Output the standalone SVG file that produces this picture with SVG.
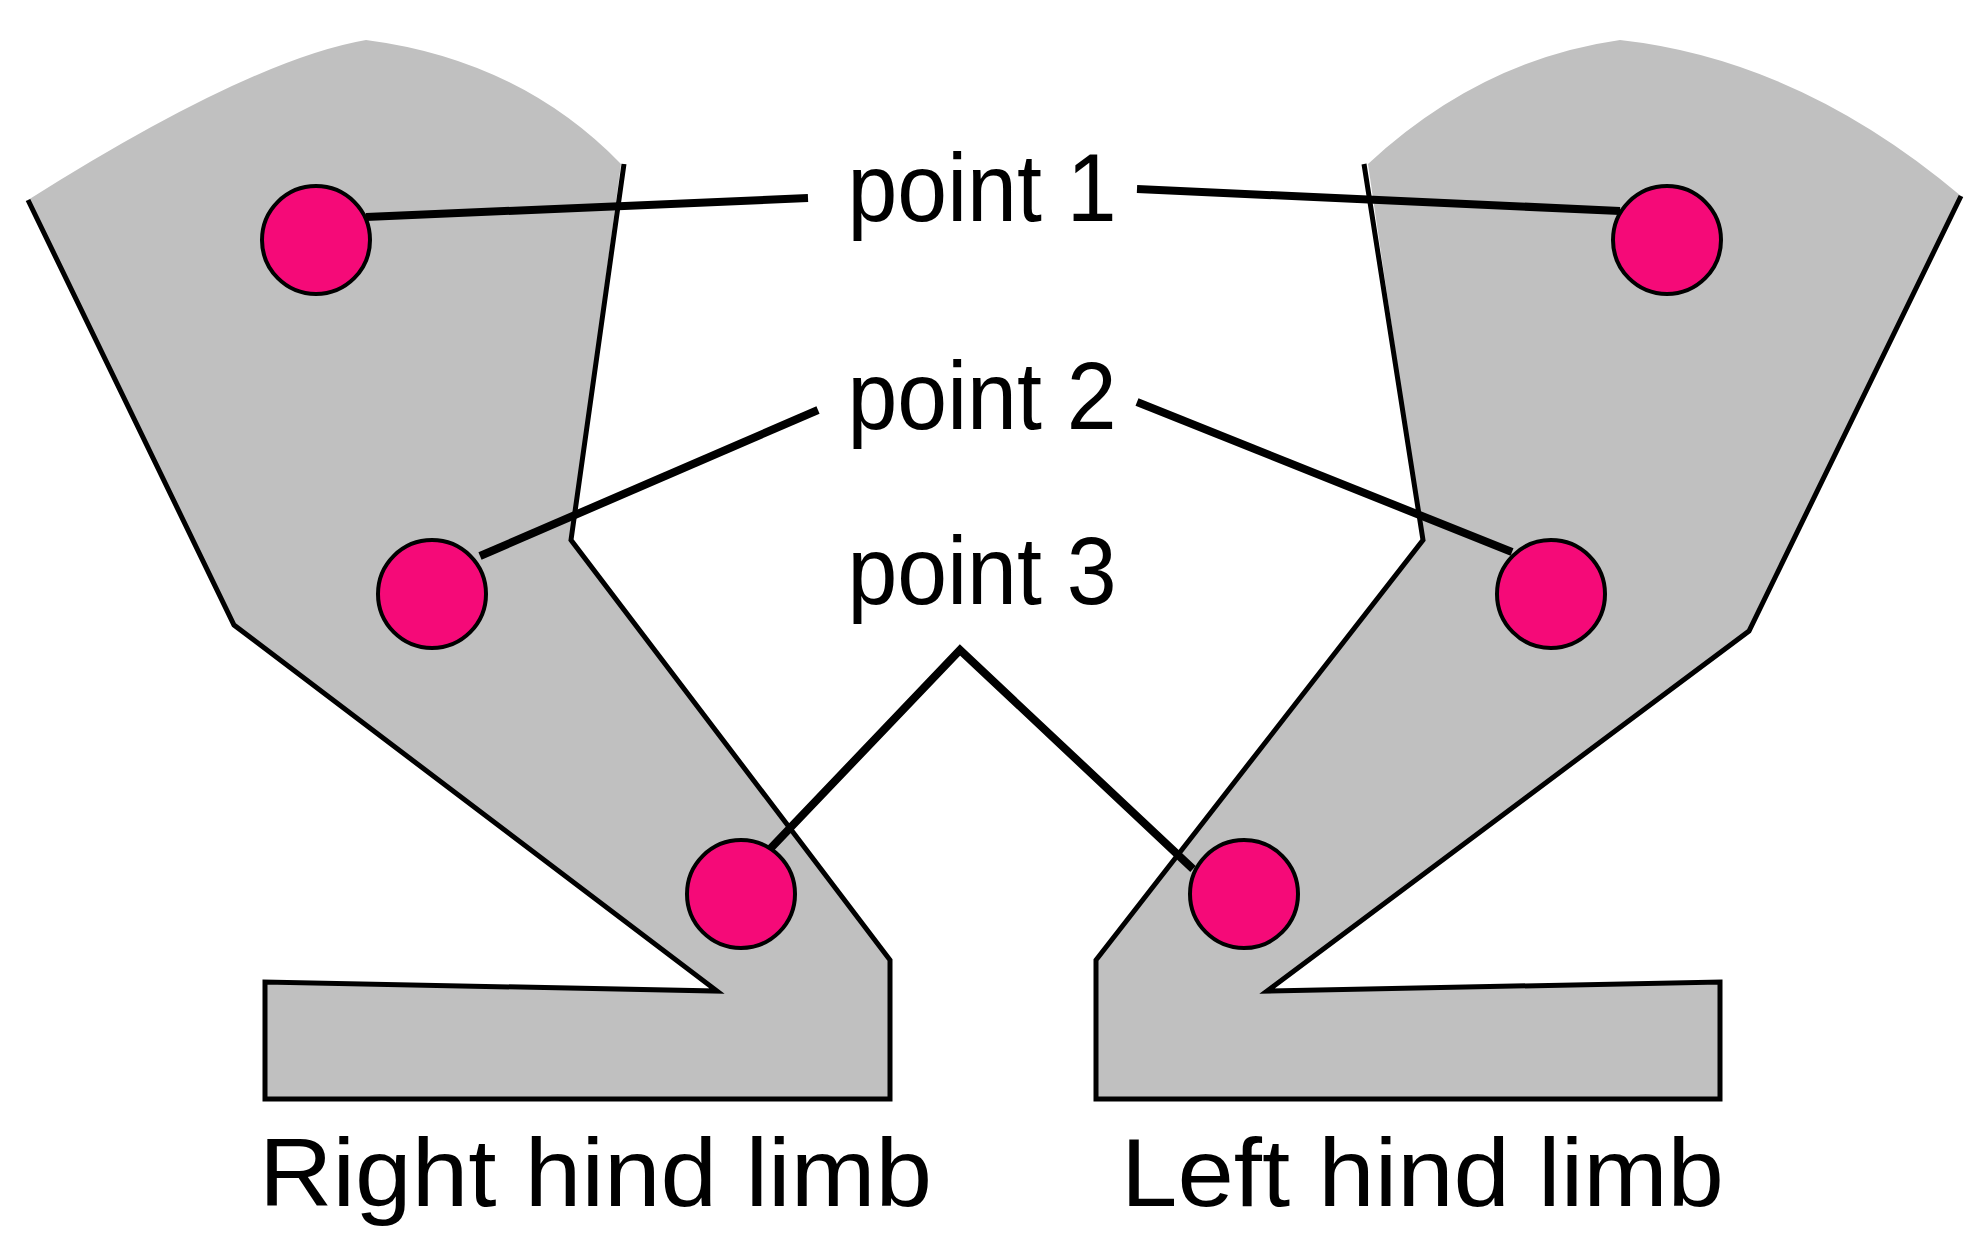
<svg xmlns="http://www.w3.org/2000/svg" width="1980" height="1260" viewBox="0 0 1980 1260">
<style>
.limb{fill:#c0c0c0;stroke:none}
.edge{fill:none;stroke:#000;stroke-width:5;stroke-linejoin:miter}
.pt{fill:#f50a78;stroke:#000;stroke-width:4}
.conn{fill:none;stroke:#000;stroke-width:8}
.lbl{font-family:"Liberation Sans",Arial,sans-serif;font-size:96px;fill:#000}
</style>
<rect width="1980" height="1260" fill="#fff"/>
<g id="right-limb">
<path class="limb" d="M28,200 Q250,60 366,40 Q520,60 621,164 L571,540 L890,960 L890,1099 L265,1099 L265,982 L717,991 L234,625 Z"/>
<path class="edge" d="M624,164 L571,540 L890,960 L890,1099 L265,1099 L265,982 L717,991 L234,625 L28,200"/>
<circle class="pt" cx="316" cy="240" r="54"/>
<circle class="pt" cx="432" cy="594" r="54"/>
<circle class="pt" cx="741" cy="894" r="54"/>
<text class="lbl" x="259" y="1206" textLength="673" lengthAdjust="spacingAndGlyphs">Right hind limb</text>
</g>
<g id="left-limb">
<path class="limb" d="M1368,164 Q1480,60 1620,40 Q1800,60 1961,196 L1749,631 L1267,991 L1720,982 L1720,1099 L1096,1099 L1096,960 L1423,540 Z"/>
<path class="edge" d="M1364,164 L1423,540 L1096,960 L1096,1099 L1720,1099 L1720,982 L1267,991 L1749,631 L1961,196"/>
<circle class="pt" cx="1667" cy="240" r="54"/>
<circle class="pt" cx="1551" cy="594" r="54"/>
<circle class="pt" cx="1244" cy="894" r="54"/>
<text class="lbl" x="1121" y="1206" textLength="603" lengthAdjust="spacingAndGlyphs">Left hind limb</text>
</g>
<g id="labels">
<text class="lbl" x="982" y="221" text-anchor="middle" textLength="269" lengthAdjust="spacingAndGlyphs">point 1</text>
<text class="lbl" x="982" y="429" text-anchor="middle" textLength="269" lengthAdjust="spacingAndGlyphs">point 2</text>
<text class="lbl" x="982" y="604" text-anchor="middle" textLength="269" lengthAdjust="spacingAndGlyphs">point 3</text>
</g>
<g id="connectors">
<line class="conn" x1="366" y1="217" x2="808" y2="198"/>
<line class="conn" x1="1137" y1="189" x2="1620" y2="211"/>
<line class="conn" x1="480" y1="556" x2="818" y2="410"/>
<line class="conn" x1="1137" y1="402" x2="1512" y2="552"/>
<polyline class="conn" points="770,849 960,650 1193,869"/>
</g>
</svg>
